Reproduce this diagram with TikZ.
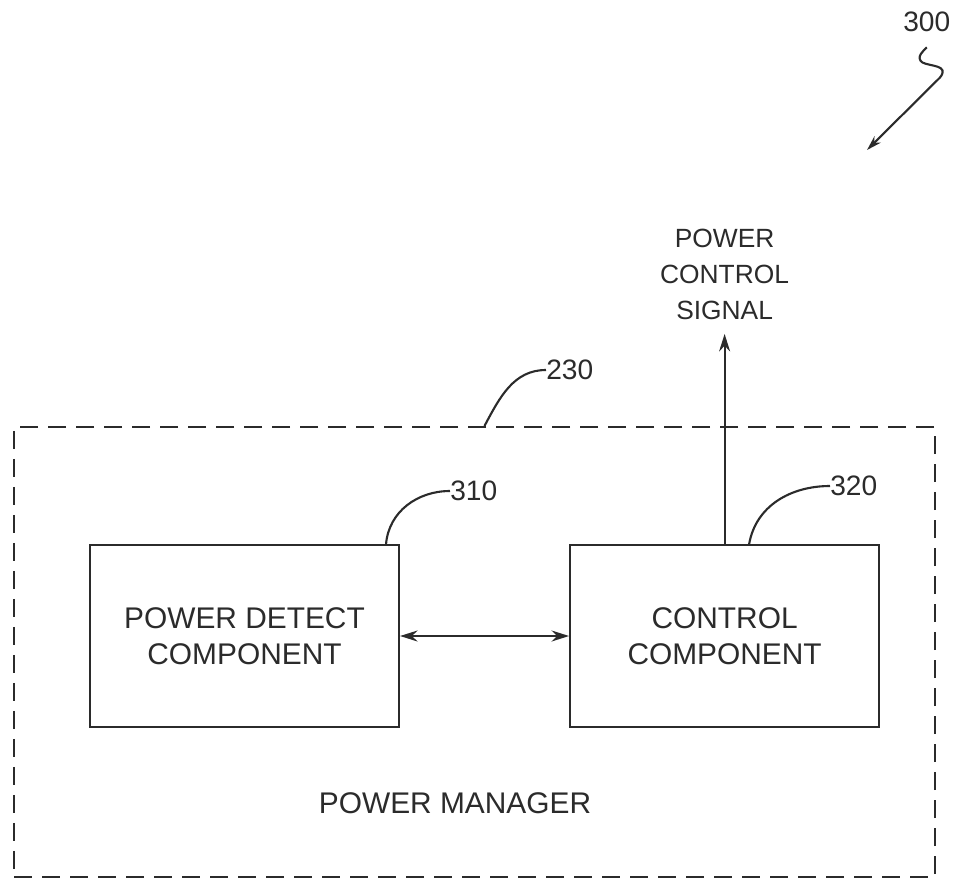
\documentclass[tikz,border=0pt]{standalone}
\usepackage{fontspec}
\setmainfont{Liberation Sans}
\usetikzlibrary{arrows.meta,positioning}
\definecolor{inkgray}{HTML}{2B2B2B}

\begin{document}
\begin{tikzpicture}[
  font=\fontsize{17}{20.5}\selectfont,
  text=inkgray,
  comp/.style={draw=inkgray, line width=1.2pt, align=center, minimum width=6.18cm, minimum height=3.64cm, inner sep=0pt},
  frame/.style={draw=inkgray, line width=1.2pt, dash pattern=on 0.36cm off 0.2cm, minimum width=18.42cm, minimum height=9cm, inner sep=0pt},
  arr/.style={-{Stealth[length=3.5mm,width=2.2mm]}, line width=1.2pt, inkgray},
  dblarr/.style={{Stealth[length=3.5mm,width=2.2mm]}-{Stealth[length=3.5mm,width=2.2mm]}, line width=1.2pt, inkgray},
  lead/.style={line width=1.2pt, inkgray},
  refnum/.style={anchor=west, inner sep=0pt, font=\fontsize{16}{19}\selectfont}
]
\useasboundingbox (0,0) rectangle (19.1,-17.6);

% power manager frame and its two parts
\node[frame] (manager) at (9.49,-13.04) {};
\node[comp] (pdetect) at (4.89,-12.72) {POWER DETECT\\COMPONENT};
\node[comp, right=3.38cm of pdetect] (control) {CONTROL\\COMPONENT};
\node at (9.1,-16.06) (mgrtext) {POWER MANAGER};

% output signal
\node[align=center, inner xsep=2pt, inner ysep=8pt, font=\fontsize{15}{20.5}\selectfont, above=4.2cm of control] (signal) {POWER\\CONTROL\\SIGNAL};
\draw[arr] (control.north) -- (signal.south);
\draw[dblarr] (pdetect.east) -- (control.west);

% reference numerals
\node[refnum] (n230) at (10.92,-7.4) {230};
\node[refnum] (n310) at (9.0,-9.82) {310};
\node[refnum] (n320) at (16.6,-9.72) {320};
\node[refnum] (n300) at (18.06,-0.44) {300};
\draw[lead] ([xshift=0.2cm]manager.north) to[out=62,in=180] (n230.west);
\draw[lead] ([xshift=-0.28cm]pdetect.north east) to[out=85,in=180] (n310.west);
\draw[lead] ([xshift=-2.62cm]control.north east) to[out=80,in=180] (n320.west);
\coordinate (tip300) at (17.34,-3.0);
\draw[arr, -{Stealth[length=3mm,width=1.8mm]}] ([yshift=-0.3cm]n300.south) .. controls (18.48,-1.0) and (18.3,-1.15) .. (18.45,-1.25) .. controls (18.6,-1.33) and (19.0,-1.3) .. (18.8,-1.55) -- (tip300);
\end{tikzpicture}
\end{document}
